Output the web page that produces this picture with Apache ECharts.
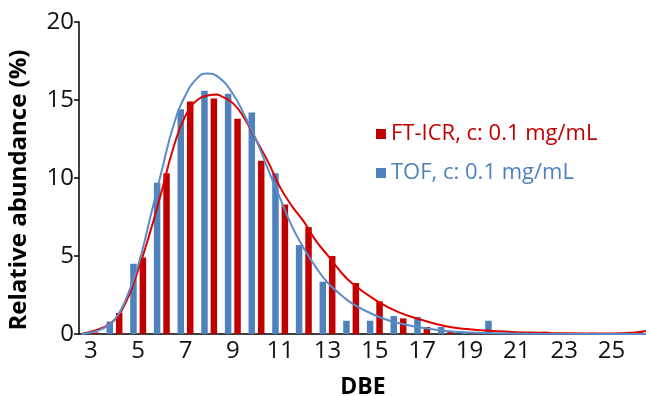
<!DOCTYPE html>
<html>
<head>
<meta charset="utf-8">
<script src="https://cdn.jsdelivr.net/npm/echarts@6/dist/echarts.min.js"></script>
<style>
  html, body { margin: 0; padding: 0; background: #fff; }
  #chart { width: 646px; height: 396px; }
</style>
</head>
<body>
<div id="chart"></div>
<script>
// DBE categories
const dbe = ['3','4','5','6','7','8','9','10','11','12','13','14','15','16','17','18','19','20','21','22','23','24','25','26']

// bar heights (%)
const tofBars = [0.1, 0.8, 4.5, 9.7, 14.4, 15.6, 15.4, 14.2, 10.3, 5.7, 3.35, 0.85, 0.85, 1.15, 1.1, 0.45, 0.15, 0.85, 0.05, 0.03, 0.03, 0.03, 0.03, 0]
const ftBars = [0.1, 1.35, 4.9, 10.3, 14.9, 15.1, 13.8, 11.1, 8.3, 6.85, 5.0, 3.27, 2.1, 1.0, 0.45, 0.15, 0.1, 0.05, 0.05, 0.15, 0.05, 0.08, 0.05, 0.15]

// fitted curves as [DBE, %]
const tofCurve = [[2.6,0],[3,0.1],[3.5,0.35],[4,0.9],[4.5,2.3],[5,4.4],[5.5,7.4],[6,10.5],[6.5,13.4],[7,15.3],[7.5,16.4],[7.9,16.7],[8.4,16.45],[9,15.4],[9.5,14.0],[10,12.4],[10.5,10.5],[11,8.7],[11.5,6.9],[12,5.5],[12.5,4.3],[13,3.3],[13.5,2.6],[14,2.0],[15,1.2],[16,0.7],[17,0.4],[18,0.2],[19,0.1],[20,0.05],[22,0.02],[26.5,0]]
const ftCurve = [[2.6,0],[3,0.15],[3.5,0.4],[4,0.9],[4.5,2.1],[5,4.1],[5.5,6.5],[6,9.2],[6.5,12.0],[7,14.0],[7.5,15.0],[8,15.3],[8.3,15.35],[8.5,15.25],[9,14.8],[9.5,13.8],[10,12.4],[10.5,11.0],[11,9.4],[11.5,8.2],[12,7.2],[12.5,6.0],[13,5.05],[13.5,4.1],[14,3.3],[15,2.2],[16,1.4],[17,0.9],[18,0.5],[19,0.3],[20,0.2],[21,0.12],[22,0.08],[23,0.05],[24,0.04],[25,0.04],[26,0.1],[26.5,0.2]]

const yTicks = { min: 0, max: 20, interval: 5 }

const blue = '#4F81BD'
const red = '#C00000'
const font = 'Open Sans'

const chart = echarts.init(document.getElementById('chart'))

const option = {
  animation: false,
  textStyle: { fontFamily: font },
  grid: { left: 79, right: -1, top: 22, bottom: 62, outerBoundsMode: 'none' },
  legend: {
    orient: 'vertical',
    left: 371,
    top: 118,
    itemWidth: 10,
    itemHeight: 10,
    itemGap: 17,
    icon: 'rect',
    data: [
      { name: 'FT-ICR, c: 0.1 mg/mL', textStyle: { color: red } },
      { name: 'TOF, c: 0.1 mg/mL', textStyle: { color: blue } }
    ],
    textStyle: { fontSize: 22, fontFamily: font }
  },
  xAxis: [
    {
      type: 'category',
      data: dbe,
      name: 'DBE',
      nameLocation: 'middle',
      nameGap: 42,
      nameTextStyle: { fontSize: 23, fontWeight: 'bold', color: '#000' },
      axisLine: { lineStyle: { color: '#000', width: 1.5 } },
      axisTick: { interval: 0, length: 6, lineStyle: { color: '#000', width: 1.5 } },
      axisLabel: { interval: 1, fontSize: 24, color: '#111', margin: 5 }
    },
    { type: 'value', min: 2.5, max: 26.5, show: false }
  ],
  yAxis: {
    type: 'value',
    min: yTicks.min,
    max: yTicks.max,
    interval: yTicks.interval,
    name: 'Relative abundance (%)',
    nameLocation: 'middle',
    nameGap: 48,
    nameTextStyle: { fontSize: 24, fontWeight: 'bold', color: '#000', padding: [0, 24, 0, 0] },
    axisLine: { show: true, lineStyle: { color: '#000', width: 1.5 } },
    axisTick: { show: true, length: 5, lineStyle: { color: '#000', width: 1.5 } },
    axisLabel: { fontSize: 24, color: '#111', margin: 5 },
    splitLine: { show: false }
  },
  series: [
    {
      name: 'TOF, c: 0.1 mg/mL',
      type: 'bar',
      data: tofBars,
      barWidth: 6.5,
      barGap: '45%',
      itemStyle: { color: blue }
    },
    {
      name: 'FT-ICR, c: 0.1 mg/mL',
      type: 'bar',
      data: ftBars,
      barWidth: 6.5,
      itemStyle: { color: red }
    },
    {
      type: 'line',
      xAxisIndex: 1,
      data: ftCurve,
      smooth: true,
      showSymbol: false,
      lineStyle: { color: '#E00000', width: 2 }
    },
    {
      type: 'line',
      xAxisIndex: 1,
      data: tofCurve,
      smooth: true,
      showSymbol: false,
      lineStyle: { color: '#5B8CC8', width: 2 }
    }
  ]
}

chart.setOption(option)
</script>
</body>
</html>
